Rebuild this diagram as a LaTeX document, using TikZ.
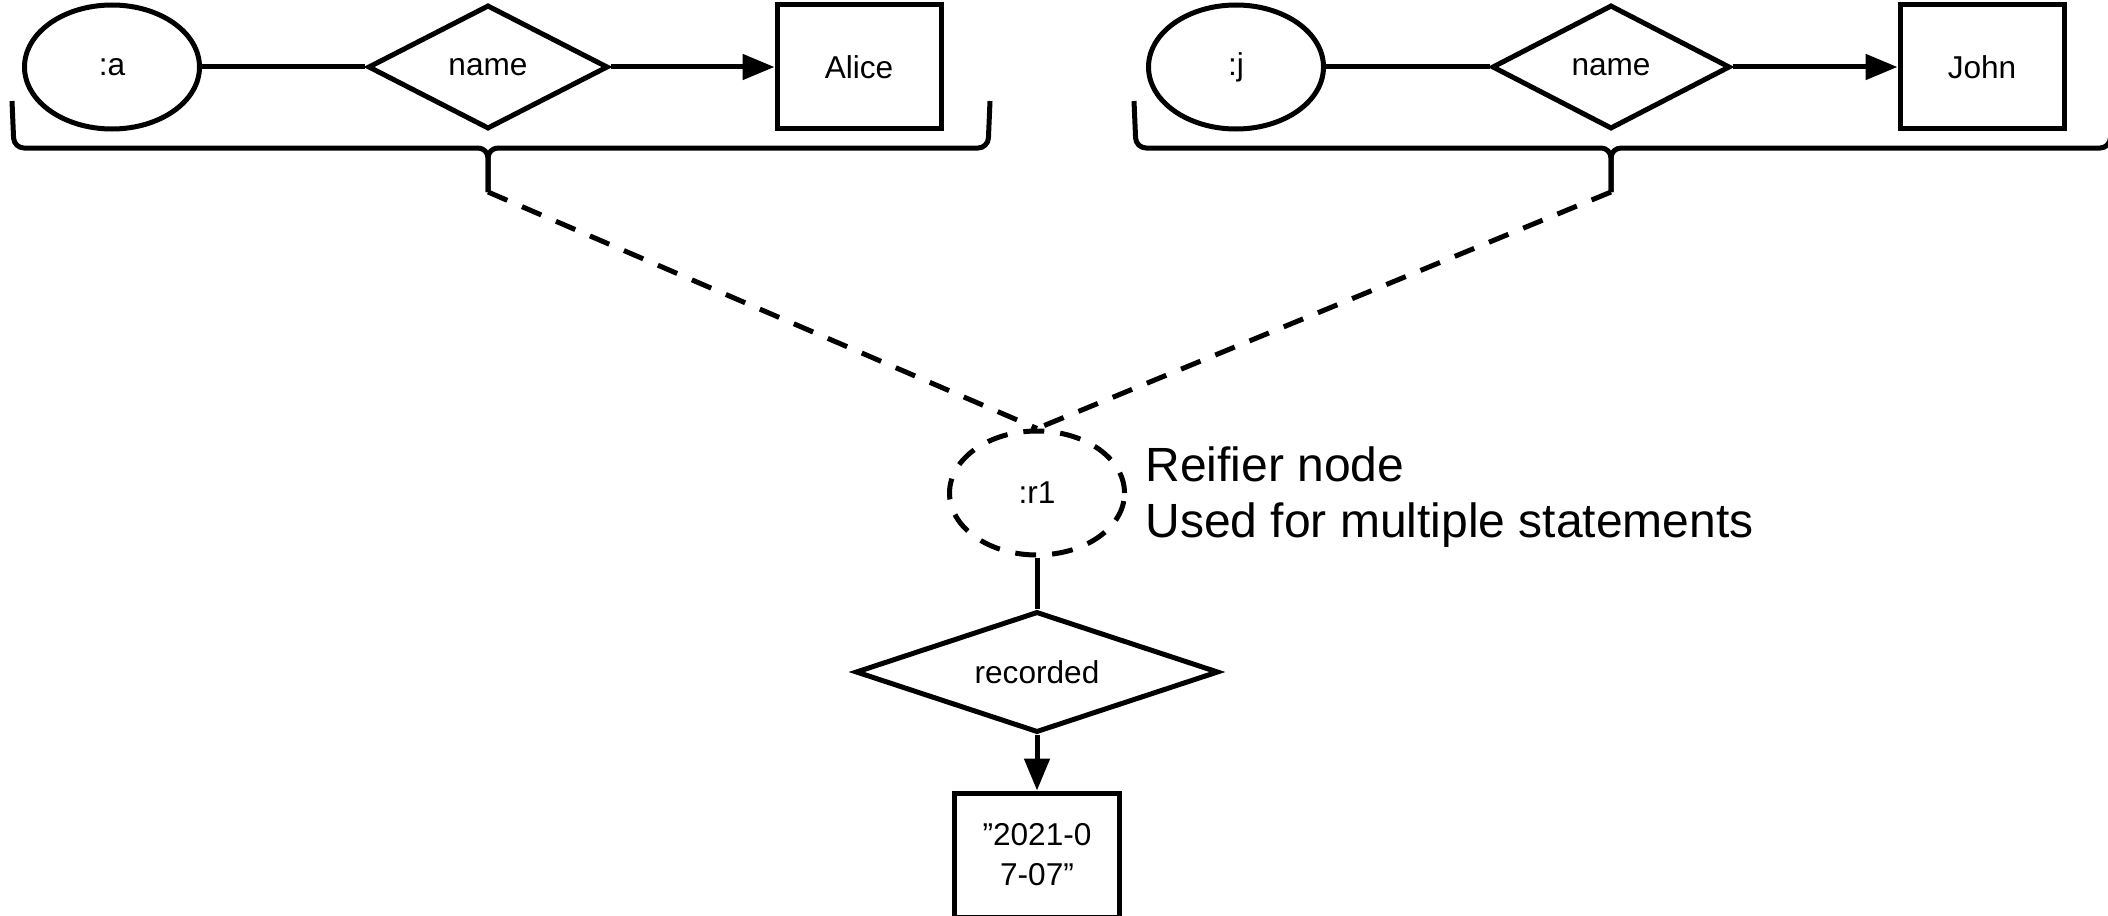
\documentclass[tikz,border=0pt]{standalone}
\usepackage{fontspec}
\setmainfont{Liberation Sans}
\usetikzlibrary{shapes.geometric,arrows.meta}
\begin{document}
\begin{tikzpicture}[x=0.5pt,y=-0.5pt, line width=2.5pt,
  smallfont/.style={font=\fontsize{15.8}{20}\selectfont},
  ell/.style={draw, ellipse, minimum width=87.5pt, minimum height=62pt, inner sep=0pt, smallfont},
  dia/.style={draw, diamond, inner sep=0pt, shape aspect=3, smallfont},
  box/.style={draw, rectangle, minimum width=82pt, minimum height=62pt, inner sep=0pt, align=center, smallfont},
  arr/.style={-{Triangle[length=16pt,width=12.5pt]}},
  dsh/.style={dash pattern=on 10.5pt off 8pt},
  brc/.style={rounded corners=5pt}
]
\useasboundingbox (0,0) rectangle (2108,915);

% left statement
\node[ell] (a) at (112,67) {:a};
\node[dia, minimum width=120pt, minimum height=62pt] (n1) at (488,67) {name};
\node[box] (alice) at (859,67) {Alice};
\draw (a) -- (n1);
\draw[arr] (n1) -- (alice);

% right statement
\node[ell] (j) at (1236,67) {:j};
\node[dia, minimum width=119pt, minimum height=62pt] (n2) at (1611,67) {name};
\node[box] (john) at (1982,67) {John};
\draw (j) -- (n2);
\draw[arr] (n2) -- (john);

% braces
\coordinate (b1) at (488,192);
\coordinate (b2) at (1611,192);
\draw[brc] (12,101) -- (14,148) -- (488,148) -- (b1);
\draw[brc] (990,101) -- (988,148) -- (488,148) -- (b1);
\draw[brc] (1134,101) -- (1136,148) -- (1611,148) -- (b2);
\draw[brc] (2112,101) -- (2110,148) -- (1611,148) -- (b2);

% reifier
\node[ell, dsh] (r1) at (1037,493) {:r1};
\draw[dsh] (b1) -- (r1.north);
\draw[dsh] (b2) -- (r1.north);
\node[anchor=west, align=left, inner sep=0pt, font=\fontsize{24}{28.2}\selectfont] (lbl) at (1143,497) {Reifier node\\Used for multiple statements};

\node[dia, minimum width=181.5pt, minimum height=60.5pt] (rec) at (1037,672) {recorded};
\node[box, minimum width=82.5pt] (date) at (1037,855) {”2021-0\\7-07”};
\draw (r1) -- (rec);
\draw[arr] (rec) -- (date);
\end{tikzpicture}
\end{document}
